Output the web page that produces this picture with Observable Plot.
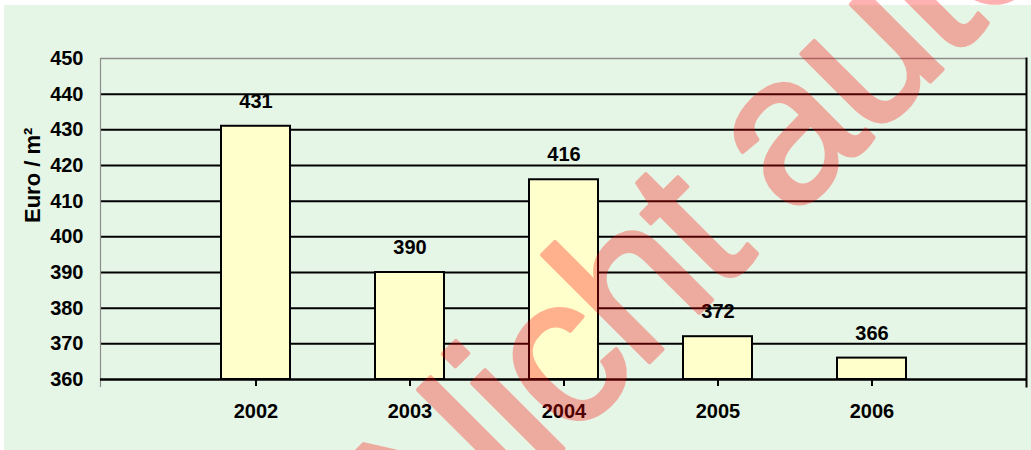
<!DOCTYPE html>
<html>
<head>
<meta charset="utf-8">
<script src="https://cdn.jsdelivr.net/npm/d3@7"></script>
<script src="https://cdn.jsdelivr.net/npm/@observablehq/plot@0.6"></script>
<style>
  html, body { margin: 0; padding: 0; background: #ffffff; overflow: hidden; }
  #wrap { position: relative; width: 1031px; height: 450px; }
  #bg { position: absolute; left: 4px; top: 5px; right: 0; bottom: 0; background: #e6f6e6; }
  #chart { position: absolute; left: 0; top: 0; }
</style>
</head>
<body>
<div id="wrap"><div id="bg"></div><div id="chart"></div></div>
<script>
// ---- data ----
const years = ["2002", "2003", "2004", "2005", "2006"];
const prices = [431, 390, 416, 372, 366];
const yTicks = [360, 370, 380, 390, 400, 410, 420, 430, 440, 450];
const yTitle = "Euro / m²";
const watermark = ["Nicht autorisiert"];

const table = years.map((year, i) => ({ year, price: prices[i] }));
const yMin = yTicks[0];
const yMax = yTicks[yTicks.length - 1];
const innerGrid = yTicks.filter(t => t > yMin && t < yMax);

const font = "'Liberation Sans', Arial, sans-serif";

const chart = Plot.plot({
  width: 1031,
  height: 450,
  marginLeft: 100,
  marginRight: 5,
  marginTop: 58,
  marginBottom: 71,
  style: { background: "transparent", fontFamily: font, fontSize: "20px", fontWeight: "bold", color: "black" },
  x: { type: "band", domain: years, paddingInner: 0.553, paddingOuter: 0.776, label: null },
  y: { domain: [yMin, yMax], label: null },
  marks: [
    Plot.ruleY(innerGrid, { stroke: "black", strokeWidth: 2 }),
    Plot.ruleY([yMax], { stroke: "#8c8c8c", strokeWidth: 1.5 }),
    Plot.frame({ anchor: "left", stroke: "#8c8c8c", strokeWidth: 1.2, insetBottom: -7 }),
    Plot.frame({ anchor: "right", stroke: "black", strokeWidth: 2, insetBottom: -7 }),
    Plot.barY(table, { x: "year", y1: yMin, y2: "price", fill: "#ffffcc", stroke: "black", strokeWidth: 2 }),
    Plot.ruleY([yMin], { stroke: "black", strokeWidth: 2.5 }),
    Plot.axisX({ tickSize: 7, tickPadding: 17, strokeWidth: 2, fontSize: 20, fontWeight: "bold" }),
    Plot.axisY({ ticks: yTicks, tickSize: 0, tickPadding: 17, fontSize: 20, fontWeight: "bold", tickFormat: d => String(d) }),
    Plot.text(table, { x: "year", y: "price", text: d => String(d.price), dy: -25, fontSize: 20, fontWeight: "bold", fill: "black" }),
    Plot.text([yTitle], { text: d => d, frameAnchor: "left", rotate: -90, dx: -68, dy: 4, fontSize: 22, fontWeight: "bold", fill: "black" }),
    Plot.text(watermark, { text: d => d, frameAnchor: "bottom-left", dx: 337, dy: 195, rotate: -45, textAnchor: "start", lineAnchor: "bottom", fontSize: 210, fontWeight: "normal", fill: "red", stroke: "red", strokeWidth: 4, opacity: 0.3 })
  ]
});
for (const t of chart.querySelectorAll("text")) {
  if (t.textContent === watermark[0]) t.style.letterSpacing = "-6px";
}
document.getElementById("chart").appendChild(chart);
</script>
</body>
</html>
